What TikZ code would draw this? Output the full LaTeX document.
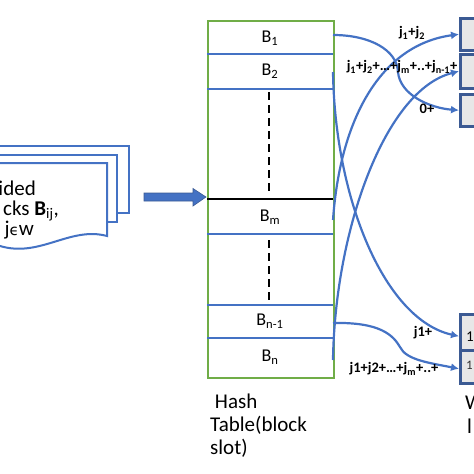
\documentclass[tikz,border=0pt]{standalone}
\usepackage{fontspec}
\setmainfont{Carlito}
\newfontfamily\dejavu{DejaVu Sans}
\usetikzlibrary{arrows.meta}
\definecolor{lblue}{HTML}{4472C4}
\definecolor{tgreen}{HTML}{70AD47}
\definecolor{dkblue}{HTML}{3B5A93}
\definecolor{boxgray}{HTML}{E7E7E7}
\begin{document}
\begin{tikzpicture}[x=1pt,y=-1pt,
  page/.style={draw=lblue,line width=2pt,fill=white},
  rowlbl/.style={font=\fontsize{18}{20}\selectfont,inner sep=0pt},
  rowline/.style={draw=lblue,line width=2pt},
  dashv/.style={draw=black,line width=2.5pt,dash pattern=on 8pt off 5pt},
  conn/.style={draw=lblue,line width=2.2pt,-{Latex[length=8pt,width=8pt]}},
  obox/.style={draw=dkblue,line width=2.5pt,fill=boxgray,minimum width=40pt,inner sep=0pt,anchor=north west},
  lab/.style={font=\bfseries\fontsize{14.5}{16}\selectfont,inner sep=0pt},
  big/.style={font=\fontsize{21}{23}\selectfont,inner sep=0pt}]
\useasboundingbox (0,0) rectangle (474,474);
\clip (0,0) rectangle (474,474);
% stacked pages
\draw[page] (-20,146) -- (129,146) -- (129,213) -- (-20,213);
\draw[page] (-20,155) -- (117,155) -- (117,222) -- (-20,222);
\path[page] (-20,163) -- (107,163) -- (107,236) .. controls (70,226) and (40,258) .. (0,246) -- (-20,244) -- cycle;
\node[big,anchor=east] (t1) at (36,188) {ided};
\node[big,anchor=east] (t2) at (59,211) {cks \textbf{B}\textsubscript{ij},};
\node[big,anchor=east] (t3) at (34,230) {j{\dejavu\fontsize{15}{18}\selectfont ϵ}w};
% big block arrow
\draw[fill=lblue,draw=dkblue,line width=0.6pt] (144,193) -- (193,193) -- (193,188.5) -- (206,197) -- (193,206) -- (193,201) -- (144,201) -- cycle;
% table
\node[draw=tgreen,line width=2pt,minimum width=126pt,minimum height=357pt,inner sep=0pt,anchor=north west] (table) at (207,20) {};
\draw[rowline] (207,54) -- (333,54);
\draw[rowline] (207,89) -- (333,89);
\draw[draw=black,line width=2pt] (207,199) -- (333,199);
\draw[rowline] (207,234) -- (333,234);
\draw[rowline] (207,305) -- (333,305);
\draw[rowline] (207,338) -- (333,338);
\draw[dashv] (269,92) -- (269,194);
\draw[dashv] (269,240) -- (269,302);
\node[rowlbl] (B1) at (270,38) {B\textsubscript{1}};
\node[rowlbl] (B2) at (270,71) {B\textsubscript{2}};
\node[rowlbl] (Bm) at (270,217) {B\textsubscript{m}};
\node[rowlbl] (Bn1) at (270,321) {B\textsubscript{n-1}};
\node[rowlbl] (Bn) at (270,357) {B\textsubscript{n}};
\node[big,anchor=north west,align=left] (hash) at (210,394) {\ Hash\\Table(block\\slot)};
% output boxes
\node[obox,minimum height=32pt] (tb1) at (459,17) {};
\node[obox,minimum height=34pt] (tb2) at (459,53) {};
\node[obox,minimum height=32pt] (tb3) at (459,93) {};
\node[obox,minimum height=36pt] (bb1) at (459,313) {};
\node[obox,minimum height=33pt] (bb2) at (459,349) {};
\node[font=\fontsize{15}{16}\selectfont,inner sep=0pt,anchor=west] (o1) at (466,337) {1};
\node[font=\fontsize{13}{14}\selectfont,inner sep=0pt,anchor=west,text=black!80] (o2) at (466,365) {1};
\node[big,anchor=west] (w1) at (465,403) {W};
\node[big,anchor=west] (w2) at (467,426) {l};
% connector endpoints on the table edge
\coordinate (s1) at (333,35);
\coordinate (s2) at (333,72);
\coordinate (sm) at (333,220);
\coordinate (sn1) at (333,323);
\coordinate (sn) at (333,360);
\coordinate (e1) at (tb1.west);
\coordinate (e2) at (tb2.west);
\coordinate (e3) at (tb3.west);
\coordinate (f1) at ([yshift=-4pt]bb1.west);
\coordinate (f2) at ([yshift=-2pt]bb2.west);
% connectors
\draw[conn] (s1) .. controls (370,35) and (397,50) .. (398,72) .. controls (400,95) and (430,108) .. (e3);
\draw[conn] (sm) .. controls (340,120) and (380,45) .. (e1);
\draw[conn] (sn) .. controls (335,230) and (385,90) .. (e2);
\draw[conn] (s2) .. controls (335,200) and (385,320) .. (f1);
\draw[conn] (sn1) .. controls (380,322) and (393,335) .. (400,347) .. controls (406,360) and (430,363) .. (f2);
% labels
\node[lab] (l1) at (412,33) {j\textsubscript{1}+j\textsubscript{2}};
\node[lab] (l2) at (402,67) {j\textsubscript{1}+j\textsubscript{2}+…+j\textsubscript{m}+..+j\textsubscript{n-1}+};
\node[lab] (l3) at (427,109) {0+};
\node[lab] (l4) at (423,333) {j1+};
\node[lab] (l5) at (394,369) {j1+j2+…+j\textsubscript{m}+..+};
\end{tikzpicture}
\end{document}
